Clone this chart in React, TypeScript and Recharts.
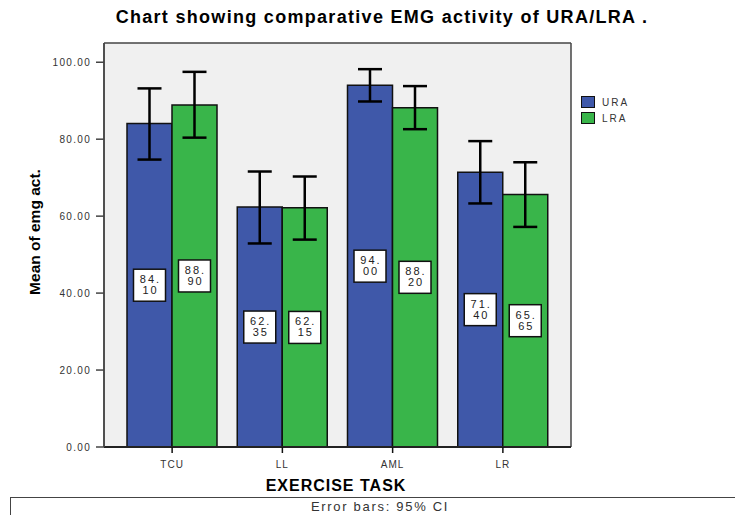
import React from 'react';
import {
  BarChart,
  Bar,
  XAxis,
  YAxis,
  CartesianGrid,
  ErrorBar,
  LabelList,
  Legend,
} from 'recharts';

const tasks = ['TCU', 'LL', 'AML', 'LR'];
const uraMeans = [84.1, 62.35, 94.0, 71.4];
const lraMeans = [88.9, 62.15, 88.2, 65.65];
// 95% CI bounds
const uraLow = [74.7, 52.9, 89.8, 63.3];
const uraHigh = [93.2, 71.6, 98.2, 79.5];
const lraLow = [80.4, 53.9, 82.6, 57.2];
const lraHigh = [97.5, 70.3, 93.8, 74.0];
const yTicks = [0, 20, 40, 60, 80, 100];

const BLUE = '#3f58a9';
const GREEN = '#39b54a';
const FONT = '"Liberation Sans", Arial, sans-serif';

const data = tasks.map((task, i) => ({
  task,
  URA: uraMeans[i],
  LRA: lraMeans[i],
  uraErr: [uraMeans[i] - uraLow[i], uraHigh[i] - uraMeans[i]],
  lraErr: [lraMeans[i] - lraLow[i], lraHigh[i] - lraMeans[i]],
}));

function BoxLabel(props: any) {
  const { x, y, width, height, value } = props;
  const cx = Number(x) + Number(width) / 2;
  const cy = Number(y) + Number(height) / 2;
  const [a, b] = Number(value).toFixed(2).split('.');
  return (
    <g>
      <rect x={cx - 16} y={cy - 16} width={32} height={32} fill="#fff" stroke="#111" strokeWidth={1.5} />
      <text x={cx + 1} y={cy - 2} textAnchor="middle" fontSize={11} letterSpacing={2} fill="#222" fontFamily={FONT}>
        {a + '.'}
      </text>
      <text x={cx + 1} y={cy + 9} textAnchor="middle" fontSize={11} letterSpacing={2} fill="#222" fontFamily={FONT}>
        {b}
      </text>
    </g>
  );
}

function LegendBox() {
  const items = [
    { name: 'URA', color: BLUE },
    { name: 'LRA', color: GREEN },
  ];
  return (
    <div style={{ fontFamily: FONT }}>
      {items.map(it => (
        <div key={it.name} style={{ display: 'flex', alignItems: 'center', height: 16 }}>
          <span style={{ width: 12, height: 10, background: it.color, border: '1.5px solid #111', display: 'inline-block' }} />
          <span style={{ marginLeft: 7, fontSize: 10, letterSpacing: 2, color: '#333' }}>{it.name}</span>
        </div>
      ))}
    </div>
  );
}

export default function App() {
  return (
    <div
      style={{
        position: 'absolute',
        left: 0,
        top: 0,
        width: 735,
        height: 515,
        background: '#fff',
        overflow: 'hidden',
        fontFamily: FONT,
      }}
    >
      <div
        style={{
          position: 'absolute',
          left: 0,
          width: 764,
          top: 7,
          textAlign: 'center',
          fontWeight: 'bold',
          fontSize: 18,
          letterSpacing: 1.3,
        }}
      >
        Chart showing comparative EMG activity of URA/LRA .
      </div>
      <BarChart
        width={735}
        height={515}
        data={data}
        margin={{ top: 43, right: 164, bottom: 38, left: 44 }}
        barGap={0}
        barSize={45}
      >
        <CartesianGrid
          fill="#f0f0f0"
          stroke="#444"
          strokeWidth={1.5}
          horizontalCoordinatesGenerator={({ offset }: any) => [offset.top, offset.top + offset.height]}
          verticalCoordinatesGenerator={({ offset }: any) => [offset.left, offset.left + offset.width]}
        />
        <XAxis
          dataKey="task"
          padding={{ left: 13, right: 13 }}
          height={30}
          axisLine={{ stroke: '#222', strokeWidth: 2 }}
          tickLine={{ stroke: '#111', strokeWidth: 1.5 }}
          tickSize={6}
          tick={{ fill: '#333', fontSize: 10, letterSpacing: 1 }}
          tickMargin={8}
        />
        <YAxis
          width={60}
          domain={[0, 105]}
          ticks={yTicks}
          tickFormatter={v => Number(v).toFixed(2)}
          axisLine={{ stroke: '#444', strokeWidth: 1.5 }}
          tickLine={{ stroke: '#444', strokeWidth: 1.5 }}
          tickSize={8}
          tick={{ fill: '#333', fontSize: 10, letterSpacing: 1.3 }}
          tickMargin={5}
        />
        <Legend
          layout="vertical"
          verticalAlign="middle"
          align="center"
          content={<LegendBox />}
          wrapperStyle={{ left: 581, top: 94, width: 80 }}
        />
        <Bar dataKey="URA" fill={BLUE} stroke="#111" strokeWidth={1.5} isAnimationActive={false}>
          <ErrorBar dataKey="uraErr" width={12} strokeWidth={2.5} stroke="#000" direction="y" isAnimationActive={false} />
          <LabelList dataKey="URA" content={BoxLabel} />
        </Bar>
        <Bar dataKey="LRA" fill={GREEN} stroke="#111" strokeWidth={1.5} isAnimationActive={false}>
          <ErrorBar dataKey="lraErr" width={12} strokeWidth={2.5} stroke="#000" direction="y" isAnimationActive={false} />
          <LabelList dataKey="LRA" content={BoxLabel} />
        </Bar>
      </BarChart>
      <div
        style={{
          position: 'absolute',
          left: 35,
          top: 232,
          transform: 'translate(-50%, -50%) rotate(-90deg)',
          whiteSpace: 'nowrap',
          fontWeight: 'bold',
          fontSize: 15.5,
        }}
      >
        Mean of emg act.
      </div>
      <div
        style={{
          position: 'absolute',
          left: 0,
          width: 672,
          top: 477,
          textAlign: 'center',
          fontWeight: 'bold',
          fontSize: 16,
          letterSpacing: 1,
        }}
      >
        EXERCISE TASK
      </div>
      <div
        style={{
          position: 'absolute',
          left: 10,
          top: 497,
          width: 760,
          height: 40,
          border: '1.5px solid #444',
          boxSizing: 'border-box',
        }}
      />
      <div
        style={{
          position: 'absolute',
          left: 0,
          width: 760,
          top: 499,
          textAlign: 'center',
          fontSize: 13,
          letterSpacing: 1.7,
          color: '#333',
        }}
      >
        Error bars: 95% CI
      </div>
    </div>
  );
}
